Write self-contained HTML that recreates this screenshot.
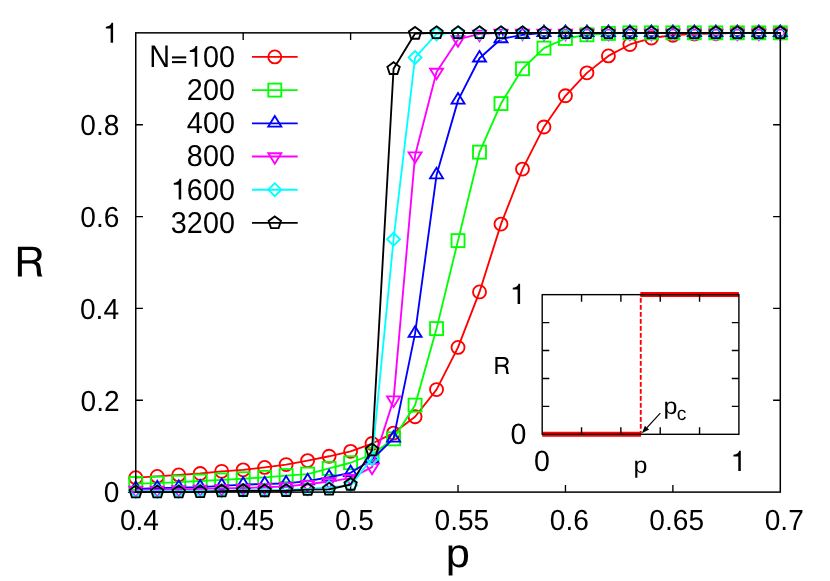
<!DOCTYPE html>
<html><head><meta charset="utf-8"><title>R vs p</title>
<style>html,body{margin:0;padding:0;background:#fff;}body{width:830px;height:581px;overflow:hidden;font-family:"Liberation Sans",sans-serif;}svg{display:block;will-change:transform;}</style></head>
<body>
<svg width="830" height="581" viewBox="0 0 830 581">
<rect width="830" height="581" fill="#fff"/>
<path d="M243.17 492.1v-7.2 M243.17 32.85v7.2 M350.6 492.1v-7.2 M350.6 32.85v7.2 M458.03 492.1v-7.2 M458.03 32.85v7.2 M565.45 492.1v-7.2 M565.45 32.85v7.2 M672.88 492.1v-7.2 M672.88 32.85v7.2 M135.75 400.25h7.2 M780.3 400.25h-7.2 M135.75 308.4h7.2 M780.3 308.4h-7.2 M135.75 216.55h7.2 M780.3 216.55h-7.2 M135.75 124.7h7.2 M780.3 124.7h-7.2" stroke="#000" stroke-width="1.35" fill="none"/>
<g stroke-linejoin="miter">
<path d="M252 56.9H297.7" stroke="#ff0000" stroke-width="1.85" fill="none"/>
<circle cx="274.8" cy="56.9" r="6.5" fill="none" stroke="#ff0000" stroke-width="1.85"/>
<path d="M135.75 477.68 L157.23 476.39 L178.72 474.88 L200.2 473.5 L221.69 471.3 L243.17 469.87 L264.66 467.39 L286.14 464.55 L307.63 460.6 L329.11 456.28 L350.6 451.32 L372.08 443.51 L393.57 433.09 L415.06 416.78 L436.54 389.56 L458.03 347.39 L479.51 291.94 L500.99 224.11 L522.48 169.12 L543.96 126.95 L565.45 95.79 L586.93 72.87 L608.42 55.92 L629.9 44.46 L651.39 38.04 L672.88 35.29 L694.36 33.92 L715.85 33.46 L737.33 32.85 L758.81 32.85 L780.3 32.85" stroke="#ff0000" stroke-width="1.85" fill="none" stroke-linejoin="round"/>
<circle cx="135.75" cy="477.68" r="6.5" fill="none" stroke="#ff0000" stroke-width="1.85"/>
<circle cx="157.23" cy="476.39" r="6.5" fill="none" stroke="#ff0000" stroke-width="1.85"/>
<circle cx="178.72" cy="474.88" r="6.5" fill="none" stroke="#ff0000" stroke-width="1.85"/>
<circle cx="200.2" cy="473.5" r="6.5" fill="none" stroke="#ff0000" stroke-width="1.85"/>
<circle cx="221.69" cy="471.3" r="6.5" fill="none" stroke="#ff0000" stroke-width="1.85"/>
<circle cx="243.17" cy="469.87" r="6.5" fill="none" stroke="#ff0000" stroke-width="1.85"/>
<circle cx="264.66" cy="467.39" r="6.5" fill="none" stroke="#ff0000" stroke-width="1.85"/>
<circle cx="286.14" cy="464.55" r="6.5" fill="none" stroke="#ff0000" stroke-width="1.85"/>
<circle cx="307.63" cy="460.6" r="6.5" fill="none" stroke="#ff0000" stroke-width="1.85"/>
<circle cx="329.11" cy="456.28" r="6.5" fill="none" stroke="#ff0000" stroke-width="1.85"/>
<circle cx="350.6" cy="451.32" r="6.5" fill="none" stroke="#ff0000" stroke-width="1.85"/>
<circle cx="372.08" cy="443.51" r="6.5" fill="none" stroke="#ff0000" stroke-width="1.85"/>
<circle cx="393.57" cy="433.09" r="6.5" fill="none" stroke="#ff0000" stroke-width="1.85"/>
<circle cx="415.06" cy="416.78" r="6.5" fill="none" stroke="#ff0000" stroke-width="1.85"/>
<circle cx="436.54" cy="389.56" r="6.5" fill="none" stroke="#ff0000" stroke-width="1.85"/>
<circle cx="458.03" cy="347.39" r="6.5" fill="none" stroke="#ff0000" stroke-width="1.85"/>
<circle cx="479.51" cy="291.94" r="6.5" fill="none" stroke="#ff0000" stroke-width="1.85"/>
<circle cx="500.99" cy="224.11" r="6.5" fill="none" stroke="#ff0000" stroke-width="1.85"/>
<circle cx="522.48" cy="169.12" r="6.5" fill="none" stroke="#ff0000" stroke-width="1.85"/>
<circle cx="543.96" cy="126.95" r="6.5" fill="none" stroke="#ff0000" stroke-width="1.85"/>
<circle cx="565.45" cy="95.79" r="6.5" fill="none" stroke="#ff0000" stroke-width="1.85"/>
<circle cx="586.93" cy="72.87" r="6.5" fill="none" stroke="#ff0000" stroke-width="1.85"/>
<circle cx="608.42" cy="55.92" r="6.5" fill="none" stroke="#ff0000" stroke-width="1.85"/>
<circle cx="629.9" cy="44.46" r="6.5" fill="none" stroke="#ff0000" stroke-width="1.85"/>
<circle cx="651.39" cy="38.04" r="6.5" fill="none" stroke="#ff0000" stroke-width="1.85"/>
<circle cx="672.88" cy="35.29" r="6.5" fill="none" stroke="#ff0000" stroke-width="1.85"/>
<circle cx="694.36" cy="33.92" r="6.5" fill="none" stroke="#ff0000" stroke-width="1.85"/>
<circle cx="715.85" cy="33.46" r="6.5" fill="none" stroke="#ff0000" stroke-width="1.85"/>
<circle cx="737.33" cy="32.85" r="6.5" fill="none" stroke="#ff0000" stroke-width="1.85"/>
<circle cx="758.81" cy="32.85" r="6.5" fill="none" stroke="#ff0000" stroke-width="1.85"/>
<circle cx="780.3" cy="32.85" r="6.5" fill="none" stroke="#ff0000" stroke-width="1.85"/>
</g>
<g stroke-linejoin="miter">
<path d="M252 90.1H297.7" stroke="#00ff00" stroke-width="1.85" fill="none"/>
<rect x="268.3" y="83.6" width="13" height="13" fill="none" stroke="#00ff00" stroke-width="1.85"/>
<path d="M135.75 483.47 L157.23 483.14 L178.72 482.18 L200.2 481.03 L221.69 479.93 L243.17 478.78 L264.66 477.31 L286.14 475.57 L307.63 474.1 L329.11 468.4 L350.6 462.75 L372.08 454.49 L393.57 438.83 L415.06 405.14 L436.54 328.6 L458.03 240.61 L479.51 152.16 L500.99 103.58 L522.48 68.75 L543.96 48.12 L565.45 38.5 L586.93 34.83 L608.42 33.46 L629.9 32.85 L651.39 32.85 L672.88 32.85 L694.36 32.85 L715.85 32.85 L737.33 32.85 L758.81 32.85 L780.3 32.85" stroke="#00ff00" stroke-width="1.85" fill="none" stroke-linejoin="round"/>
<rect x="129.25" y="476.97" width="13" height="13" fill="none" stroke="#00ff00" stroke-width="1.85"/>
<rect x="150.73" y="476.64" width="13" height="13" fill="none" stroke="#00ff00" stroke-width="1.85"/>
<rect x="172.22" y="475.68" width="13" height="13" fill="none" stroke="#00ff00" stroke-width="1.85"/>
<rect x="193.7" y="474.53" width="13" height="13" fill="none" stroke="#00ff00" stroke-width="1.85"/>
<rect x="215.19" y="473.43" width="13" height="13" fill="none" stroke="#00ff00" stroke-width="1.85"/>
<rect x="236.67" y="472.28" width="13" height="13" fill="none" stroke="#00ff00" stroke-width="1.85"/>
<rect x="258.16" y="470.81" width="13" height="13" fill="none" stroke="#00ff00" stroke-width="1.85"/>
<rect x="279.64" y="469.07" width="13" height="13" fill="none" stroke="#00ff00" stroke-width="1.85"/>
<rect x="301.13" y="467.6" width="13" height="13" fill="none" stroke="#00ff00" stroke-width="1.85"/>
<rect x="322.61" y="461.9" width="13" height="13" fill="none" stroke="#00ff00" stroke-width="1.85"/>
<rect x="344.1" y="456.25" width="13" height="13" fill="none" stroke="#00ff00" stroke-width="1.85"/>
<rect x="365.58" y="447.99" width="13" height="13" fill="none" stroke="#00ff00" stroke-width="1.85"/>
<rect x="387.07" y="432.33" width="13" height="13" fill="none" stroke="#00ff00" stroke-width="1.85"/>
<rect x="408.56" y="398.64" width="13" height="13" fill="none" stroke="#00ff00" stroke-width="1.85"/>
<rect x="430.04" y="322.1" width="13" height="13" fill="none" stroke="#00ff00" stroke-width="1.85"/>
<rect x="451.53" y="234.11" width="13" height="13" fill="none" stroke="#00ff00" stroke-width="1.85"/>
<rect x="473.01" y="145.66" width="13" height="13" fill="none" stroke="#00ff00" stroke-width="1.85"/>
<rect x="494.49" y="97.08" width="13" height="13" fill="none" stroke="#00ff00" stroke-width="1.85"/>
<rect x="515.98" y="62.25" width="13" height="13" fill="none" stroke="#00ff00" stroke-width="1.85"/>
<rect x="537.46" y="41.62" width="13" height="13" fill="none" stroke="#00ff00" stroke-width="1.85"/>
<rect x="558.95" y="32" width="13" height="13" fill="none" stroke="#00ff00" stroke-width="1.85"/>
<rect x="580.43" y="28.33" width="13" height="13" fill="none" stroke="#00ff00" stroke-width="1.85"/>
<rect x="601.92" y="26.96" width="13" height="13" fill="none" stroke="#00ff00" stroke-width="1.85"/>
<rect x="623.4" y="26.35" width="13" height="13" fill="none" stroke="#00ff00" stroke-width="1.85"/>
<rect x="644.89" y="26.35" width="13" height="13" fill="none" stroke="#00ff00" stroke-width="1.85"/>
<rect x="666.38" y="26.35" width="13" height="13" fill="none" stroke="#00ff00" stroke-width="1.85"/>
<rect x="687.86" y="26.35" width="13" height="13" fill="none" stroke="#00ff00" stroke-width="1.85"/>
<rect x="709.35" y="26.35" width="13" height="13" fill="none" stroke="#00ff00" stroke-width="1.85"/>
<rect x="730.83" y="26.35" width="13" height="13" fill="none" stroke="#00ff00" stroke-width="1.85"/>
<rect x="752.31" y="26.35" width="13" height="13" fill="none" stroke="#00ff00" stroke-width="1.85"/>
<rect x="773.8" y="26.35" width="13" height="13" fill="none" stroke="#00ff00" stroke-width="1.85"/>
</g>
<g stroke-linejoin="miter">
<path d="M252 123.3H297.7" stroke="#0000ff" stroke-width="1.85" fill="none"/>
<polygon points="274.8,116.02 268.3,126.55 281.3,126.55" fill="none" stroke="#0000ff" stroke-width="1.85"/>
<path d="M135.75 488.89 L157.23 488.15 L178.72 487.65 L200.2 487.19 L221.69 485.9 L243.17 484.61 L264.66 483.97 L286.14 483.37 L307.63 481.12 L329.11 477.22 L350.6 472.81 L372.08 459.49 L393.57 438.37 L415.06 333.64 L436.54 175.07 L458.03 100.37 L479.51 58.21 L500.99 38.96 L522.48 34.83 L543.96 32.85 L565.45 32.85 L586.93 32.85 L608.42 32.85 L629.9 32.85 L651.39 32.85 L672.88 32.85 L694.36 32.85 L715.85 32.85 L737.33 32.85 L758.81 32.85 L780.3 32.85" stroke="#0000ff" stroke-width="1.85" fill="none" stroke-linejoin="round"/>
<polygon points="135.75,481.61 129.25,492.14 142.25,492.14" fill="none" stroke="#0000ff" stroke-width="1.85"/>
<polygon points="157.23,480.87 150.73,491.4 163.73,491.4" fill="none" stroke="#0000ff" stroke-width="1.85"/>
<polygon points="178.72,480.37 172.22,490.9 185.22,490.9" fill="none" stroke="#0000ff" stroke-width="1.85"/>
<polygon points="200.2,479.91 193.7,490.44 206.7,490.44" fill="none" stroke="#0000ff" stroke-width="1.85"/>
<polygon points="221.69,478.62 215.19,489.15 228.19,489.15" fill="none" stroke="#0000ff" stroke-width="1.85"/>
<polygon points="243.17,477.33 236.67,487.86 249.67,487.86" fill="none" stroke="#0000ff" stroke-width="1.85"/>
<polygon points="264.66,476.69 258.16,487.22 271.16,487.22" fill="none" stroke="#0000ff" stroke-width="1.85"/>
<polygon points="286.14,476.09 279.64,486.62 292.64,486.62" fill="none" stroke="#0000ff" stroke-width="1.85"/>
<polygon points="307.63,473.84 301.13,484.37 314.13,484.37" fill="none" stroke="#0000ff" stroke-width="1.85"/>
<polygon points="329.11,469.94 322.61,480.47 335.61,480.47" fill="none" stroke="#0000ff" stroke-width="1.85"/>
<polygon points="350.6,465.53 344.1,476.06 357.1,476.06" fill="none" stroke="#0000ff" stroke-width="1.85"/>
<polygon points="372.08,452.21 365.58,462.74 378.58,462.74" fill="none" stroke="#0000ff" stroke-width="1.85"/>
<polygon points="393.57,431.09 387.07,441.62 400.07,441.62" fill="none" stroke="#0000ff" stroke-width="1.85"/>
<polygon points="415.06,326.36 408.56,336.89 421.56,336.89" fill="none" stroke="#0000ff" stroke-width="1.85"/>
<polygon points="436.54,167.79 430.04,178.32 443.04,178.32" fill="none" stroke="#0000ff" stroke-width="1.85"/>
<polygon points="458.03,93.09 451.53,103.62 464.53,103.62" fill="none" stroke="#0000ff" stroke-width="1.85"/>
<polygon points="479.51,50.93 473.01,61.46 486.01,61.46" fill="none" stroke="#0000ff" stroke-width="1.85"/>
<polygon points="500.99,31.68 494.49,42.21 507.49,42.21" fill="none" stroke="#0000ff" stroke-width="1.85"/>
<polygon points="522.48,27.55 515.98,38.08 528.98,38.08" fill="none" stroke="#0000ff" stroke-width="1.85"/>
<polygon points="543.96,25.57 537.46,36.1 550.46,36.1" fill="none" stroke="#0000ff" stroke-width="1.85"/>
<polygon points="565.45,25.57 558.95,36.1 571.95,36.1" fill="none" stroke="#0000ff" stroke-width="1.85"/>
<polygon points="586.93,25.57 580.43,36.1 593.43,36.1" fill="none" stroke="#0000ff" stroke-width="1.85"/>
<polygon points="608.42,25.57 601.92,36.1 614.92,36.1" fill="none" stroke="#0000ff" stroke-width="1.85"/>
<polygon points="629.9,25.57 623.4,36.1 636.4,36.1" fill="none" stroke="#0000ff" stroke-width="1.85"/>
<polygon points="651.39,25.57 644.89,36.1 657.89,36.1" fill="none" stroke="#0000ff" stroke-width="1.85"/>
<polygon points="672.88,25.57 666.38,36.1 679.38,36.1" fill="none" stroke="#0000ff" stroke-width="1.85"/>
<polygon points="694.36,25.57 687.86,36.1 700.86,36.1" fill="none" stroke="#0000ff" stroke-width="1.85"/>
<polygon points="715.85,25.57 709.35,36.1 722.35,36.1" fill="none" stroke="#0000ff" stroke-width="1.85"/>
<polygon points="737.33,25.57 730.83,36.1 743.83,36.1" fill="none" stroke="#0000ff" stroke-width="1.85"/>
<polygon points="758.81,25.57 752.31,36.1 765.31,36.1" fill="none" stroke="#0000ff" stroke-width="1.85"/>
<polygon points="780.3,25.57 773.8,36.1 786.8,36.1" fill="none" stroke="#0000ff" stroke-width="1.85"/>
</g>
<g stroke-linejoin="miter">
<path d="M252 156.5H297.7" stroke="#ff00ff" stroke-width="1.85" fill="none"/>
<polygon points="274.8,163.78 268.3,153.25 281.3,153.25" fill="none" stroke="#ff00ff" stroke-width="1.85"/>
<path d="M135.75 490.03 L157.23 489.8 L178.72 489.34 L200.2 488.89 L221.69 488.43 L243.17 487.97 L264.66 487.28 L286.14 486.41 L307.63 484.29 L329.11 481.54 L350.6 478.09 L372.08 467.07 L393.57 399.64 L415.06 155.6 L436.54 71.96 L458.03 39.42 L479.51 33.92 L500.99 32.85 L522.48 32.85 L543.96 32.85 L565.45 32.85 L586.93 32.85 L608.42 32.85 L629.9 32.85 L651.39 32.85 L672.88 32.85 L694.36 32.85 L715.85 32.85 L737.33 32.85 L758.81 32.85 L780.3 32.85" stroke="#ff00ff" stroke-width="1.85" fill="none" stroke-linejoin="round"/>
<polygon points="135.75,497.31 129.25,486.78 142.25,486.78" fill="none" stroke="#ff00ff" stroke-width="1.85"/>
<polygon points="157.23,497.08 150.73,486.55 163.73,486.55" fill="none" stroke="#ff00ff" stroke-width="1.85"/>
<polygon points="178.72,496.62 172.22,486.09 185.22,486.09" fill="none" stroke="#ff00ff" stroke-width="1.85"/>
<polygon points="200.2,496.17 193.7,485.64 206.7,485.64" fill="none" stroke="#ff00ff" stroke-width="1.85"/>
<polygon points="221.69,495.71 215.19,485.18 228.19,485.18" fill="none" stroke="#ff00ff" stroke-width="1.85"/>
<polygon points="243.17,495.25 236.67,484.72 249.67,484.72" fill="none" stroke="#ff00ff" stroke-width="1.85"/>
<polygon points="264.66,494.56 258.16,484.03 271.16,484.03" fill="none" stroke="#ff00ff" stroke-width="1.85"/>
<polygon points="286.14,493.69 279.64,483.16 292.64,483.16" fill="none" stroke="#ff00ff" stroke-width="1.85"/>
<polygon points="307.63,491.57 301.13,481.04 314.13,481.04" fill="none" stroke="#ff00ff" stroke-width="1.85"/>
<polygon points="329.11,488.82 322.61,478.29 335.61,478.29" fill="none" stroke="#ff00ff" stroke-width="1.85"/>
<polygon points="350.6,485.37 344.1,474.84 357.1,474.84" fill="none" stroke="#ff00ff" stroke-width="1.85"/>
<polygon points="372.08,474.35 365.58,463.82 378.58,463.82" fill="none" stroke="#ff00ff" stroke-width="1.85"/>
<polygon points="393.57,406.92 387.07,396.39 400.07,396.39" fill="none" stroke="#ff00ff" stroke-width="1.85"/>
<polygon points="415.06,162.88 408.56,152.35 421.56,152.35" fill="none" stroke="#ff00ff" stroke-width="1.85"/>
<polygon points="436.54,79.24 430.04,68.71 443.04,68.71" fill="none" stroke="#ff00ff" stroke-width="1.85"/>
<polygon points="458.03,46.7 451.53,36.17 464.53,36.17" fill="none" stroke="#ff00ff" stroke-width="1.85"/>
<polygon points="479.51,41.2 473.01,30.67 486.01,30.67" fill="none" stroke="#ff00ff" stroke-width="1.85"/>
<polygon points="500.99,40.13 494.49,29.6 507.49,29.6" fill="none" stroke="#ff00ff" stroke-width="1.85"/>
<polygon points="522.48,40.13 515.98,29.6 528.98,29.6" fill="none" stroke="#ff00ff" stroke-width="1.85"/>
<polygon points="543.96,40.13 537.46,29.6 550.46,29.6" fill="none" stroke="#ff00ff" stroke-width="1.85"/>
<polygon points="565.45,40.13 558.95,29.6 571.95,29.6" fill="none" stroke="#ff00ff" stroke-width="1.85"/>
<polygon points="586.93,40.13 580.43,29.6 593.43,29.6" fill="none" stroke="#ff00ff" stroke-width="1.85"/>
<polygon points="608.42,40.13 601.92,29.6 614.92,29.6" fill="none" stroke="#ff00ff" stroke-width="1.85"/>
<polygon points="629.9,40.13 623.4,29.6 636.4,29.6" fill="none" stroke="#ff00ff" stroke-width="1.85"/>
<polygon points="651.39,40.13 644.89,29.6 657.89,29.6" fill="none" stroke="#ff00ff" stroke-width="1.85"/>
<polygon points="672.88,40.13 666.38,29.6 679.38,29.6" fill="none" stroke="#ff00ff" stroke-width="1.85"/>
<polygon points="694.36,40.13 687.86,29.6 700.86,29.6" fill="none" stroke="#ff00ff" stroke-width="1.85"/>
<polygon points="715.85,40.13 709.35,29.6 722.35,29.6" fill="none" stroke="#ff00ff" stroke-width="1.85"/>
<polygon points="737.33,40.13 730.83,29.6 743.83,29.6" fill="none" stroke="#ff00ff" stroke-width="1.85"/>
<polygon points="758.81,40.13 752.31,29.6 765.31,29.6" fill="none" stroke="#ff00ff" stroke-width="1.85"/>
<polygon points="780.3,40.13 773.8,29.6 786.8,29.6" fill="none" stroke="#ff00ff" stroke-width="1.85"/>
</g>
<g stroke-linejoin="miter">
<path d="M252 189.7H297.7" stroke="#00ffff" stroke-width="1.85" fill="none"/>
<polygon points="274.8,183.2 268.3,189.7 274.8,196.2 281.3,189.7" fill="none" stroke="#00ffff" stroke-width="1.85"/>
<path d="M135.75 491.18 L157.23 491.18 L178.72 491.18 L200.2 490.72 L221.69 490.72 L243.17 490.26 L264.66 490.26 L286.14 489.8 L307.63 488.89 L329.11 487.51 L350.6 485.3 L372.08 458.39 L393.57 239.23 L415.06 57.52 L436.54 33.92 L458.03 32.85 L479.51 32.85 L500.99 32.85 L522.48 32.85 L543.96 32.85 L565.45 32.85 L586.93 32.85 L608.42 32.85 L629.9 32.85 L651.39 32.85 L672.88 32.85 L694.36 32.85 L715.85 32.85 L737.33 32.85 L758.81 32.85 L780.3 32.85" stroke="#00ffff" stroke-width="1.85" fill="none" stroke-linejoin="round"/>
<polygon points="135.75,484.68 129.25,491.18 135.75,497.68 142.25,491.18" fill="none" stroke="#00ffff" stroke-width="1.85"/>
<polygon points="157.23,484.68 150.73,491.18 157.23,497.68 163.73,491.18" fill="none" stroke="#00ffff" stroke-width="1.85"/>
<polygon points="178.72,484.68 172.22,491.18 178.72,497.68 185.22,491.18" fill="none" stroke="#00ffff" stroke-width="1.85"/>
<polygon points="200.2,484.22 193.7,490.72 200.2,497.22 206.7,490.72" fill="none" stroke="#00ffff" stroke-width="1.85"/>
<polygon points="221.69,484.22 215.19,490.72 221.69,497.22 228.19,490.72" fill="none" stroke="#00ffff" stroke-width="1.85"/>
<polygon points="243.17,483.76 236.67,490.26 243.17,496.76 249.67,490.26" fill="none" stroke="#00ffff" stroke-width="1.85"/>
<polygon points="264.66,483.76 258.16,490.26 264.66,496.76 271.16,490.26" fill="none" stroke="#00ffff" stroke-width="1.85"/>
<polygon points="286.14,483.3 279.64,489.8 286.14,496.3 292.64,489.8" fill="none" stroke="#00ffff" stroke-width="1.85"/>
<polygon points="307.63,482.39 301.13,488.89 307.63,495.39 314.13,488.89" fill="none" stroke="#00ffff" stroke-width="1.85"/>
<polygon points="329.11,481.01 322.61,487.51 329.11,494.01 335.61,487.51" fill="none" stroke="#00ffff" stroke-width="1.85"/>
<polygon points="350.6,478.8 344.1,485.3 350.6,491.8 357.1,485.3" fill="none" stroke="#00ffff" stroke-width="1.85"/>
<polygon points="372.08,451.89 365.58,458.39 372.08,464.89 378.58,458.39" fill="none" stroke="#00ffff" stroke-width="1.85"/>
<polygon points="393.57,232.73 387.07,239.23 393.57,245.73 400.07,239.23" fill="none" stroke="#00ffff" stroke-width="1.85"/>
<polygon points="415.06,51.02 408.56,57.52 415.06,64.02 421.56,57.52" fill="none" stroke="#00ffff" stroke-width="1.85"/>
<polygon points="436.54,27.42 430.04,33.92 436.54,40.42 443.04,33.92" fill="none" stroke="#00ffff" stroke-width="1.85"/>
<polygon points="458.03,26.35 451.53,32.85 458.03,39.35 464.53,32.85" fill="none" stroke="#00ffff" stroke-width="1.85"/>
<polygon points="479.51,26.35 473.01,32.85 479.51,39.35 486.01,32.85" fill="none" stroke="#00ffff" stroke-width="1.85"/>
<polygon points="500.99,26.35 494.49,32.85 500.99,39.35 507.49,32.85" fill="none" stroke="#00ffff" stroke-width="1.85"/>
<polygon points="522.48,26.35 515.98,32.85 522.48,39.35 528.98,32.85" fill="none" stroke="#00ffff" stroke-width="1.85"/>
<polygon points="543.96,26.35 537.46,32.85 543.96,39.35 550.46,32.85" fill="none" stroke="#00ffff" stroke-width="1.85"/>
<polygon points="565.45,26.35 558.95,32.85 565.45,39.35 571.95,32.85" fill="none" stroke="#00ffff" stroke-width="1.85"/>
<polygon points="586.93,26.35 580.43,32.85 586.93,39.35 593.43,32.85" fill="none" stroke="#00ffff" stroke-width="1.85"/>
<polygon points="608.42,26.35 601.92,32.85 608.42,39.35 614.92,32.85" fill="none" stroke="#00ffff" stroke-width="1.85"/>
<polygon points="629.9,26.35 623.4,32.85 629.9,39.35 636.4,32.85" fill="none" stroke="#00ffff" stroke-width="1.85"/>
<polygon points="651.39,26.35 644.89,32.85 651.39,39.35 657.89,32.85" fill="none" stroke="#00ffff" stroke-width="1.85"/>
<polygon points="672.88,26.35 666.38,32.85 672.88,39.35 679.38,32.85" fill="none" stroke="#00ffff" stroke-width="1.85"/>
<polygon points="694.36,26.35 687.86,32.85 694.36,39.35 700.86,32.85" fill="none" stroke="#00ffff" stroke-width="1.85"/>
<polygon points="715.85,26.35 709.35,32.85 715.85,39.35 722.35,32.85" fill="none" stroke="#00ffff" stroke-width="1.85"/>
<polygon points="737.33,26.35 730.83,32.85 737.33,39.35 743.83,32.85" fill="none" stroke="#00ffff" stroke-width="1.85"/>
<polygon points="758.81,26.35 752.31,32.85 758.81,39.35 765.31,32.85" fill="none" stroke="#00ffff" stroke-width="1.85"/>
<polygon points="780.3,26.35 773.8,32.85 780.3,39.35 786.8,32.85" fill="none" stroke="#00ffff" stroke-width="1.85"/>
</g>
<g stroke-linejoin="miter">
<path d="M252 222.9H297.7" stroke="#000000" stroke-width="1.85" fill="none"/>
<polygon points="274.8,216.4 280.98,220.89 278.62,228.16 270.98,228.16 268.62,220.89" fill="none" stroke="#000000" stroke-width="1.85"/>
<path d="M135.75 492.1 L157.23 492.1 L178.72 492.1 L200.2 491.87 L221.69 491.18 L243.17 490.72 L264.66 490.95 L286.14 490.72 L307.63 489.67 L329.11 489.34 L350.6 484.48 L372.08 450.12 L393.57 68.75 L415.06 33.46 L436.54 32.85 L458.03 32.85 L479.51 32.85 L500.99 32.85 L522.48 32.85 L543.96 32.85 L565.45 32.85 L586.93 32.85 L608.42 32.85 L629.9 32.85 L651.39 32.85 L672.88 32.85 L694.36 32.85 L715.85 32.85 L737.33 32.85 L758.81 32.85 L780.3 32.85" stroke="#000000" stroke-width="1.85" fill="none" stroke-linejoin="round"/>
<polygon points="135.75,485.6 141.93,490.09 139.57,497.36 131.93,497.36 129.57,490.09" fill="none" stroke="#000000" stroke-width="1.85"/>
<polygon points="157.23,485.6 163.42,490.09 161.06,497.36 153.41,497.36 151.05,490.09" fill="none" stroke="#000000" stroke-width="1.85"/>
<polygon points="178.72,485.6 184.9,490.09 182.54,497.36 174.9,497.36 172.54,490.09" fill="none" stroke="#000000" stroke-width="1.85"/>
<polygon points="200.2,485.37 206.39,489.86 204.03,497.13 196.38,497.13 194.02,489.86" fill="none" stroke="#000000" stroke-width="1.85"/>
<polygon points="221.69,484.68 227.87,489.17 225.51,496.44 217.87,496.44 215.51,489.17" fill="none" stroke="#000000" stroke-width="1.85"/>
<polygon points="243.17,484.22 249.36,488.71 247,495.98 239.35,495.98 236.99,488.71" fill="none" stroke="#000000" stroke-width="1.85"/>
<polygon points="264.66,484.45 270.84,488.94 268.48,496.21 260.84,496.21 258.48,488.94" fill="none" stroke="#000000" stroke-width="1.85"/>
<polygon points="286.14,484.22 292.33,488.71 289.97,495.98 282.32,495.98 279.96,488.71" fill="none" stroke="#000000" stroke-width="1.85"/>
<polygon points="307.63,483.17 313.81,487.66 311.45,494.92 303.81,494.92 301.45,487.66" fill="none" stroke="#000000" stroke-width="1.85"/>
<polygon points="329.11,482.84 335.3,487.34 332.94,494.6 325.29,494.6 322.93,487.34" fill="none" stroke="#000000" stroke-width="1.85"/>
<polygon points="350.6,477.98 356.78,482.47 354.42,489.74 346.78,489.74 344.42,482.47" fill="none" stroke="#000000" stroke-width="1.85"/>
<polygon points="372.08,443.62 378.27,448.12 375.91,455.38 368.26,455.38 365.9,448.12" fill="none" stroke="#000000" stroke-width="1.85"/>
<polygon points="393.57,62.25 399.75,66.74 397.39,74.01 389.75,74.01 387.39,66.74" fill="none" stroke="#000000" stroke-width="1.85"/>
<polygon points="415.06,26.96 421.24,31.45 418.88,38.72 411.23,38.72 408.87,31.45" fill="none" stroke="#000000" stroke-width="1.85"/>
<polygon points="436.54,26.35 442.72,30.84 440.36,38.11 432.72,38.11 430.36,30.84" fill="none" stroke="#000000" stroke-width="1.85"/>
<polygon points="458.03,26.35 464.21,30.84 461.85,38.11 454.2,38.11 451.84,30.84" fill="none" stroke="#000000" stroke-width="1.85"/>
<polygon points="479.51,26.35 485.69,30.84 483.33,38.11 475.69,38.11 473.33,30.84" fill="none" stroke="#000000" stroke-width="1.85"/>
<polygon points="500.99,26.35 507.18,30.84 504.82,38.11 497.17,38.11 494.81,30.84" fill="none" stroke="#000000" stroke-width="1.85"/>
<polygon points="522.48,26.35 528.66,30.84 526.3,38.11 518.66,38.11 516.3,30.84" fill="none" stroke="#000000" stroke-width="1.85"/>
<polygon points="543.96,26.35 550.15,30.84 547.79,38.11 540.14,38.11 537.78,30.84" fill="none" stroke="#000000" stroke-width="1.85"/>
<polygon points="565.45,26.35 571.63,30.84 569.27,38.11 561.63,38.11 559.27,30.84" fill="none" stroke="#000000" stroke-width="1.85"/>
<polygon points="586.93,26.35 593.12,30.84 590.76,38.11 583.11,38.11 580.75,30.84" fill="none" stroke="#000000" stroke-width="1.85"/>
<polygon points="608.42,26.35 614.6,30.84 612.24,38.11 604.6,38.11 602.24,30.84" fill="none" stroke="#000000" stroke-width="1.85"/>
<polygon points="629.9,26.35 636.09,30.84 633.73,38.11 626.08,38.11 623.72,30.84" fill="none" stroke="#000000" stroke-width="1.85"/>
<polygon points="651.39,26.35 657.57,30.84 655.21,38.11 647.57,38.11 645.21,30.84" fill="none" stroke="#000000" stroke-width="1.85"/>
<polygon points="672.88,26.35 679.06,30.84 676.7,38.11 669.05,38.11 666.69,30.84" fill="none" stroke="#000000" stroke-width="1.85"/>
<polygon points="694.36,26.35 700.54,30.84 698.18,38.11 690.54,38.11 688.18,30.84" fill="none" stroke="#000000" stroke-width="1.85"/>
<polygon points="715.85,26.35 722.03,30.84 719.67,38.11 712.02,38.11 709.66,30.84" fill="none" stroke="#000000" stroke-width="1.85"/>
<polygon points="737.33,26.35 743.51,30.84 741.15,38.11 733.51,38.11 731.15,30.84" fill="none" stroke="#000000" stroke-width="1.85"/>
<polygon points="758.81,26.35 765,30.84 762.64,38.11 754.99,38.11 752.63,30.84" fill="none" stroke="#000000" stroke-width="1.85"/>
<polygon points="780.3,26.35 786.48,30.84 784.12,38.11 776.48,38.11 774.12,30.84" fill="none" stroke="#000000" stroke-width="1.85"/>
</g>
<rect x="135.75" y="32.85" width="644.55" height="459.25" stroke="#000" stroke-width="1.5" fill="none"/>
<g font-family="'Liberation Sans', sans-serif" fill="#000" style="text-rendering:geometricPrecision">
<text transform="translate(149.28 66.8) scale(1.0100 1.1024)" font-size="28.5">N</text><rect x="171.99" y="61.08" width="14.22" height="2.05"/><rect x="171.99" y="56.39" width="14.22" height="2.05"/><path d="M194.68 66.8L197.21 66.8L197.21 46L195.57 46C195.17 47.74 193.78 49.64 189.78 50.14L189.78 51.99L194.68 51.99Z"/><text transform="translate(202.88 66.8) scale(1.0100 1.0600)" font-size="28.5">00</text>
<text transform="translate(186.87 100) scale(1.0100 1.0600)" font-size="28.5">200</text>
<text transform="translate(186.87 133.2) scale(1.0100 1.0600)" font-size="28.5">400</text>
<text transform="translate(186.87 166.4) scale(1.0100 1.0600)" font-size="28.5">800</text>
<path d="M178.67 199.6L181.2 199.6L181.2 178.8L179.56 178.8C179.16 180.54 177.78 182.44 173.77 182.94L173.77 184.79L178.67 184.79Z"/><text transform="translate(186.87 199.6) scale(1.0100 1.0600)" font-size="28.5">600</text>
<text transform="translate(170.86 232.8) scale(1.0100 1.0600)" font-size="28.5">3200</text>
<text transform="translate(103.64 502.4) scale(1.0000 1.0300)" font-size="28.1">0</text>
<text transform="translate(80.55 410.55) scale(1.0000 1.0300)" font-size="28.1">0.2</text>
<text transform="translate(79.96 318.7) scale(1.0000 1.0300)" font-size="28.1">0.4</text>
<text transform="translate(80.35 226.85) scale(1.0000 1.0300)" font-size="28.1">0.6</text>
<text transform="translate(80.35 135) scale(1.0000 1.0300)" font-size="28.1">0.8</text>
<path d="M110.63 42.65L113.1 42.65L113.1 22.73L111.5 22.73C111.1 24.39 109.76 26.21 105.85 26.69L105.85 28.46L110.63 28.46Z"/>
<text transform="translate(119.88 529.6) scale(1.0000 1.0300)" font-size="28.1">0.4</text>
<text transform="translate(219.66 529.6) scale(1.0000 1.0300)" font-size="28.1">0.45</text>
<text transform="translate(334.9 529.6) scale(1.0000 1.0300)" font-size="28.1">0.5</text>
<text transform="translate(434.51 529.6) scale(1.0000 1.0300)" font-size="28.1">0.55</text>
<text transform="translate(549.78 529.6) scale(1.0000 1.0300)" font-size="28.1">0.6</text>
<text transform="translate(649.36 529.6) scale(1.0000 1.0300)" font-size="28.1">0.65</text>
<text transform="translate(764.73 529.6) scale(1.0000 1.0300)" font-size="28.1">0.7</text>
<path fill-rule="evenodd" d="M17.9 276.55 L17.9 246.66 L32.42 246.66 C38.17 246.66 41.68 249.49 41.68 254.74 C41.68 258.35 39.79 260.81 36.37 261.87 C39.45 263.02 40.39 264.58 40.69 268.68 C40.95 272.61 41.34 274.83 42.54 276.55 L37.74 276.55 C37.09 275.24 36.84 273.11 36.67 269.17 C36.45 265.07 34.57 263.59 30.54 263.59 L21.88 263.59 L21.88 276.55 Z M21.88 260.23 L31.22 260.23 C35.51 260.23 37.52 258.43 37.52 255.07 C37.52 251.79 35.51 250.02 31.22 250.02 L21.88 250.02 Z"/>
<text transform="translate(445.82 567.3) scale(1.0600 0.9920)" font-size="41">p</text>
</g>
<g stroke="#f00" fill="none">
<path d="M542.2 434.3H641.05" stroke-width="4.9"/>
<path d="M640.35 294.55H738.9" stroke-width="4.9"/>
<path d="M640.75 294.65V434.3" stroke-width="1.9" stroke-dasharray="4.7 2.3" stroke-dashoffset="3.55"/>
</g>
<g stroke="#000" stroke-width="1.4" fill="none">
<path d="M581.54 434.3v-7.1 M581.54 294.65v7.1 M542.2 322.58h7.1 M738.9 322.58h-7.1 M620.88 434.3v-7.1 M620.88 294.65v7.1 M542.2 350.51h7.1 M738.9 350.51h-7.1 M660.22 434.3v-7.1 M660.22 294.65v7.1 M542.2 378.44h7.1 M738.9 378.44h-7.1 M699.56 434.3v-7.1 M699.56 294.65v7.1 M542.2 406.37h7.1 M738.9 406.37h-7.1"/>
<rect x="542.2" y="294.65" width="196.7" height="139.65"/>
<path d="M660.3 413.2L647 427.66" stroke-width="1.2"/>
</g>
<polygon points="641.85,433.25 644.94,425.76 649.06,429.55" fill="#000"/>
<g font-family="'Liberation Sans', sans-serif" fill="#000" style="text-rendering:geometricPrecision">
<path d="M517.59 303.9L520.1 303.9L520.1 283.69L518.48 283.69C518.08 285.38 516.71 287.23 512.75 287.71L512.75 289.51L517.59 289.51Z"/>
<text transform="translate(510.54 444.1) scale(1.0000 1.0300)" font-size="28.5">0</text>
<text transform="translate(534.06 471.3) scale(1.0000 1.0300)" font-size="28.5">0</text>
<path d="M738.29 471L740.8 471L740.8 450.79L739.18 450.79C738.78 452.48 737.41 454.33 733.45 454.81L733.45 456.61L738.29 456.61Z"/>
<path fill-rule="evenodd" d="M495.36 374.1 L495.36 356.97 L503.49 356.97 C506.7 356.97 508.66 358.59 508.66 361.6 C508.66 363.67 507.61 365.08 505.69 365.69 C507.42 366.35 507.94 367.24 508.11 369.59 C508.26 371.84 508.47 373.11 509.14 374.1 L506.46 374.1 C506.1 373.35 505.95 372.13 505.86 369.87 C505.74 367.52 504.68 366.67 502.43 366.67 L497.59 366.67 L497.59 374.1 Z M497.59 364.75 L502.81 364.75 C505.21 364.75 506.34 363.71 506.34 361.79 C506.34 359.91 505.21 358.9 502.81 358.9 L497.59 358.9 Z"/>
<text transform="translate(633.4 472.8) scale(1.0900 1.0200)" font-size="23">p</text>
<text transform="translate(663.4 413.5) scale(1.0900 1.0200)" font-size="23">p</text>
<text transform="translate(676.74 420.4) scale(1.0000 1.0000)" font-size="19.3">c</text>
</g>
</svg>
</body></html>
